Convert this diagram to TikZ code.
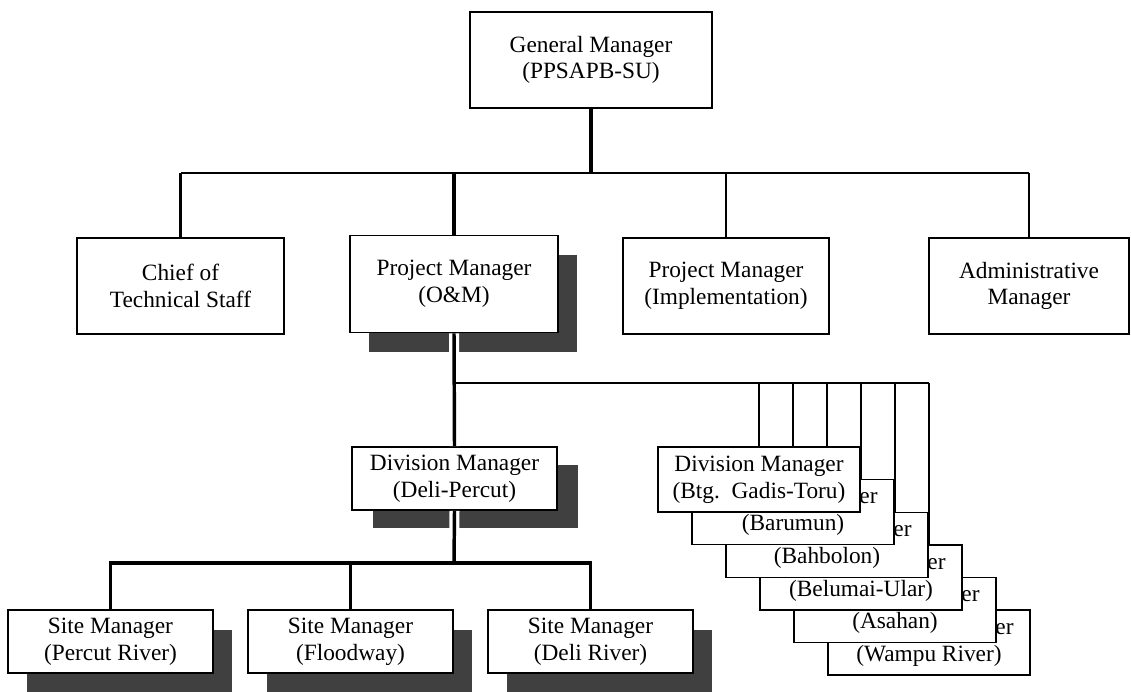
\documentclass[tikz,border=0pt]{standalone}
\usepackage{fontspec}
\setmainfont{Liberation Serif}
\usetikzlibrary{shadows,backgrounds}

\tikzset{
  box/.style={draw, line width=1.4pt, fill=white, align=center, inner sep=0pt,
    font=\fontsize{17.5}{20}\selectfont},
  shadowbox/.style 2 args={box, general shadow={fill=black!75, shadow xshift=#1, shadow yshift=-#2}},
  trunk/.style={line width=2.6pt},
  drop/.style={line width=2pt},
  bus/.style={line width=1.3pt},
  gap/.style={preaction={draw=white, line width=7.5pt}}
}

\begin{document}
\begin{tikzpicture}[x=0.75pt,y=-0.75pt]
\useasboundingbox (0,0) rectangle (1131,692);

\node[box, minimum width=181.5pt, minimum height=72pt] (gm) at (591,60) {General Manager\\(PPSAPB-SU)};

\node[box, minimum width=155.25pt, minimum height=72pt] (chief) at (180.5,286) {Chief of\\Technical Staff};
\node[shadowbox={14pt}{14.5pt}, minimum width=156pt, minimum height=72.75pt] (pmom) at (454,284) {Project Manager\\(O\&M)};
\node[box, minimum width=154.5pt, minimum height=72pt] (pmimpl) at (726,286) {Project Manager\\(Implementation)};
\node[box, minimum width=150pt, minimum height=72pt] (admin) at (1029,286) {Administrative\\Manager};

\node[shadowbox={15.75pt}{13.5pt}, minimum width=153.75pt, minimum height=47.25pt] (divdp) at (454.5,478.5) {Division Manager\\(Deli-Percut)};

\node[shadowbox={14.5pt}{15pt}, minimum width=153.75pt, minimum height=47.25pt] (site1) at (110.5,641.5) {Site Manager\\(Percut River)};
\node[shadowbox={14.5pt}{15pt}, minimum width=153.75pt, minimum height=47.25pt] (site2) at (350.5,641.5) {Site Manager\\(Floodway)};
\node[shadowbox={14.5pt}{15pt}, minimum width=153.75pt, minimum height=47.25pt] (site3) at (590.5,641.5) {Site Manager\\(Deli River)};

\node[box, minimum width=151.5pt, minimum height=48.75pt] (div6) at (929,642.5) {Division Manager\\(Wampu River)};
\node[box, minimum width=151.5pt, minimum height=48.75pt] (div5) at (895,610) {Division Manager\\(Asahan)};
\node[box, minimum width=151.5pt, minimum height=48.75pt] (div4) at (861,577.5) {Division Manager\\(Belumai-Ular)};
\node[box, minimum width=151.5pt, minimum height=48.75pt] (div3) at (827,545) {Division Manager\\(Bahbolon)};
\node[box, minimum width=151.5pt, minimum height=48.75pt] (div2) at (793,512) {Division Manager\\(Barumun)};
\node[box, minimum width=151.5pt, minimum height=48.75pt] (div1) at (759,479.5) {Division Manager\\(Btg.\ \ Gadis-Toru)};

\coordinate (topbus) at (591,173);
\coordinate (ombus) at (454,383);
\coordinate (dpbus) at (454,563);

\path[draw,trunk] (gm.south) -- (topbus);
\path[draw,bus] (chief.north |- topbus) -- (admin.north |- topbus);
\path[draw,drop] (chief.north) -- (chief.north |- topbus);
\path[draw,trunk] (pmom.north) -- (pmom.north |- topbus);
\path[draw,drop] (pmimpl.north) -- (pmimpl.north |- topbus);
\path[draw,drop] (admin.north) -- (admin.north |- topbus);

\path[draw,trunk,gap] (pmom.south) -- (divdp.north);
\path[draw,bus] (ombus) -- (div6.north |- ombus);

\begin{scope}[on background layer]
\path[draw,drop] (div1.north) -- (div1.north |- ombus);
\path[draw,drop] (div2.north) -- (div2.north |- ombus);
\path[draw,drop] (div3.north) -- (div3.north |- ombus);
\path[draw,drop] (div4.north) -- (div4.north |- ombus);
\path[draw,drop] (div5.north) -- (div5.north |- ombus);
\path[draw,drop] (div6.north) -- (div6.north |- ombus);
\end{scope}

\path[draw,trunk,gap] (divdp.south) -- (dpbus);
\path[draw,trunk] (site1.north) |- (dpbus) -| (site3.north);
\path[draw,trunk] (site2.north) -- (site2.north |- dpbus);

\end{tikzpicture}
\end{document}
